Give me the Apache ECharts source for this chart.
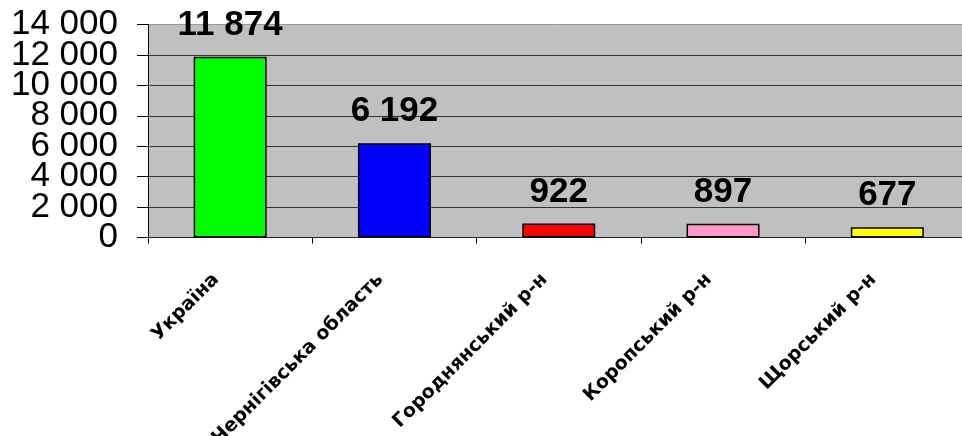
<!DOCTYPE html>
<html><head><meta charset="utf-8">
<script src="https://cdn.jsdelivr.net/npm/echarts@6/dist/echarts.min.js"></script>
<style>html,body{margin:0;padding:0;background:#fff}#c{width:962px;height:436px}</style>
</head><body><div id="c"></div>
<script>
const categories = ["Україна", "Чернігівська область", "Городнянський р-н", "Коропський р-н", "Щорський р-н"];
const values = [11874, 6192, 922, 897, 677];
const barColors = ["#00ff00", "#0000ff", "#ff0000", "#ff99cc", "#ffff00"];
const yTicks = [0, 2000, 4000, 6000, 8000, 10000, 12000, 14000];

function fmt(v){ return String(v).replace(/\B(?=(\d{3})+(?!\d))/g, ' '); }

const yMin = yTicks[0], yMax = yTicks[yTicks.length-1], yStep = yTicks[1]-yTicks[0];
const labelFont = {color:'#000', fontFamily:'Liberation Sans, Arial, sans-serif', fontSize:35};

const chart = echarts.init(document.getElementById('c'), null, {renderer:'canvas'});
chart.setOption({
  animation:false,
  grid:{left:148, top:24.5, bottom:198.5, width:821.5, show:true, backgroundColor:'#c0c0c0', borderWidth:0, containLabel:false, outerBoundsMode:'none'},
  xAxis:{type:'category', data:categories,
    axisLine:{lineStyle:{color:'#222', width:1}},
    axisTick:{show:true, alignWithLabel:false, length:6, lineStyle:{color:'#000'}},
    axisLabel:{rotate:45, interval:0, hideOverlap:false, margin:25, padding:[0,20,0,0], color:'#000', fontFamily:'DejaVu Sans, Verdana, sans-serif', fontWeight:'bold', fontSize:19}
  },
  yAxis:[{type:'value', min:yMin, max:yMax, interval:yStep,
    axisLine:{show:true, lineStyle:{color:'#000', width:1}},
    axisTick:{show:true, inside:false, length:11, lineStyle:{color:'#000'}},
    splitLine:{show:true, lineStyle:{color:['#333','#333','#333','#333','#333','#333','#333','#999'], width:1}},
    axisLabel:Object.assign({margin:30, showMinLabel:true, showMaxLabel:true, hideOverlap:false, formatter:v=>fmt(v)}, labelFont)
  },{type:'value', position:'left', min:yMin, max:yMax, interval:yStep,
    axisLine:{show:false},
    axisTick:{show:true, inside:false, length:11, lineStyle:{color:'#000'}},
    splitLine:{show:false},
    axisLabel:Object.assign({margin:30, showMinLabel:false, showMaxLabel:false, hideOverlap:false,
      formatter:v=>(v===yTicks[1]||v===yTicks[yTicks.length-2]) ? fmt(v) : ''}, labelFont)
  }],
  series:[{type:'bar', barWidth:73, yAxisIndex:0,
    data: values.map((v,i)=>({value:v, itemStyle:{color:barColors[i]}})),
    itemStyle:{borderColor:'#000', borderWidth:1.5},
    label:{show:true, position:'top', distance:14, color:'#000', fontFamily:'Liberation Sans, Arial, sans-serif', fontWeight:'bold', fontSize:35, formatter:p=>fmt(p.value)}
  }]
});
</script></body></html>
